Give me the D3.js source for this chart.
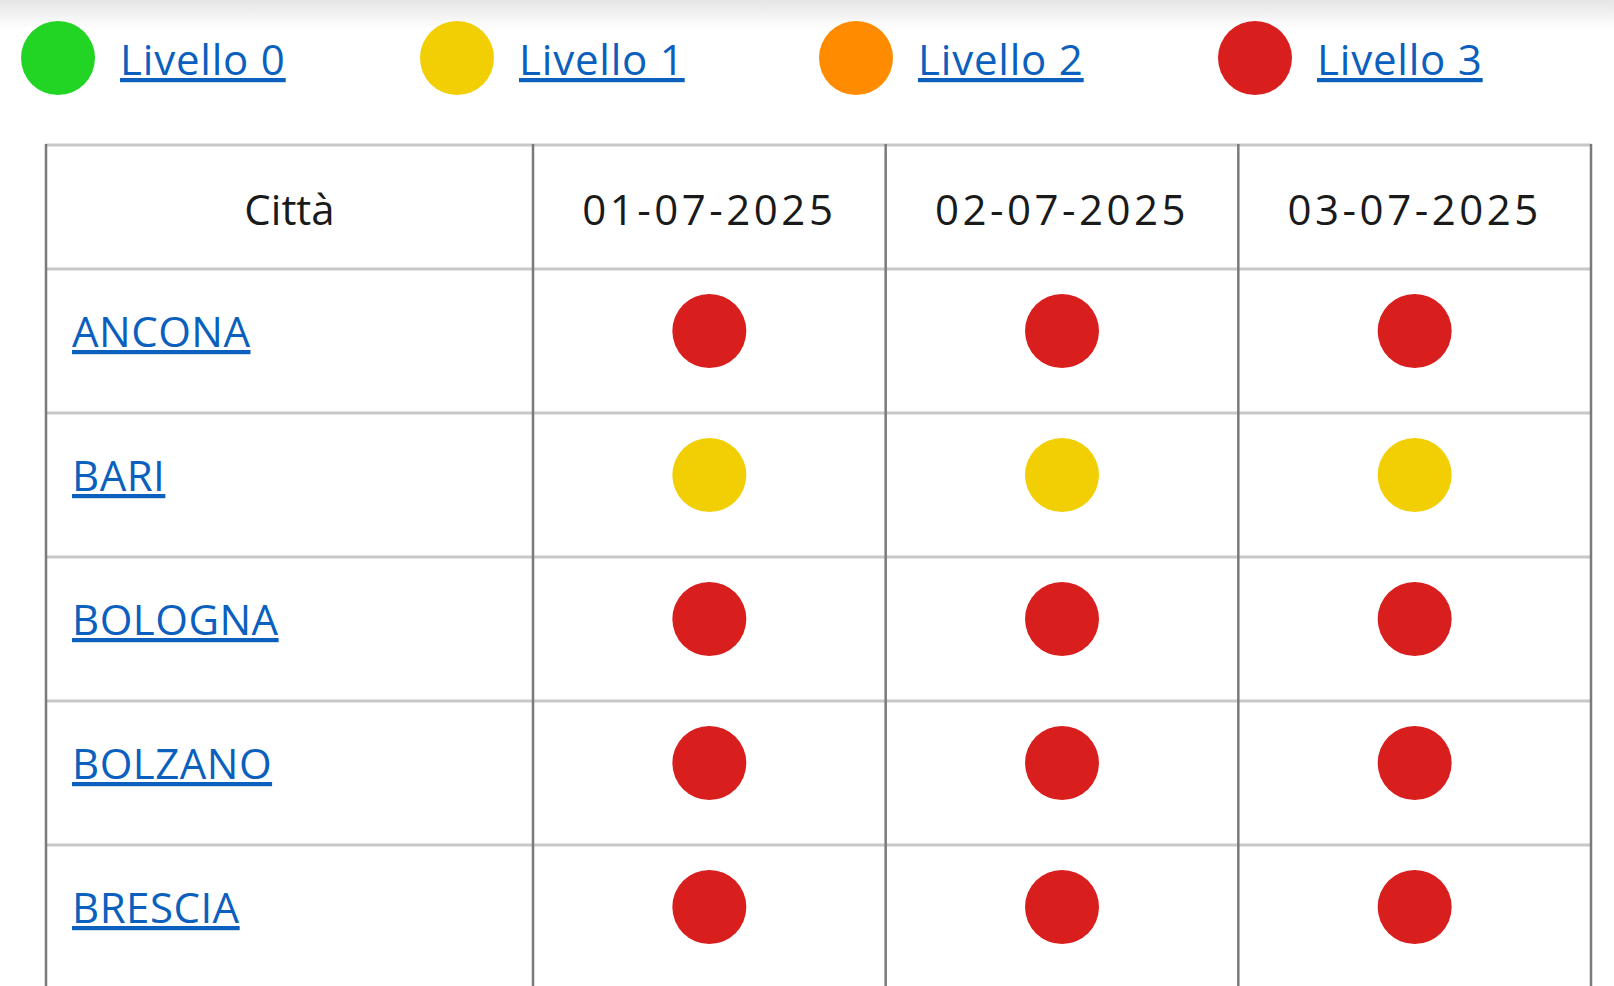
<!DOCTYPE html>
<html>
<head>
<meta charset="utf-8">
<script src="https://cdn.jsdelivr.net/npm/d3@7"></script>
<style>
body { margin: 0; background: #fff; }
text { font-family: "Open Sans", sans-serif; }
.link { text-decoration: underline; text-decoration-thickness: 1.5px; text-underline-offset: 6px; }
</style>
</head>
<body>
<svg id="chart"></svg>
<script>
var width = 1614;
var height = 986;

// legend levels
var levels = ["Livello 0", "Livello 1", "Livello 2", "Livello 3"];
var levelColors = ["#22d424", "#f2cf05", "#ff8c00", "#d91e1e"];

// table data
var dates = ["01-07-2025", "02-07-2025", "03-07-2025"];
var cities = ["ANCONA", "BARI", "BOLOGNA", "BOLZANO", "BRESCIA"];
var cityLevels = [
	[3, 3, 3],
	[1, 1, 1],
	[3, 3, 3],
	[3, 3, 3],
	[3, 3, 3]
];

var linkColor = "#0b5fbd";

var svg = d3.select("#chart").attr("width", width).attr("height", height);

// faint shade at the top
var grad = svg.append("defs").append("linearGradient")
	.attr("id", "topShade").attr("x1", 0).attr("x2", 0).attr("y1", 0).attr("y2", 1);
grad.append("stop").attr("offset", "0%").attr("stop-color", "#e6e6e6");
grad.append("stop").attr("offset", "100%").attr("stop-color", "#fff");
svg.append("rect").attr("width", width).attr("height", 30).attr("fill", "url(#topShade)");

// legend
var legendX = d3.scalePoint().domain(levels).range([58, 1255]);
var leg = svg.selectAll(".legend").data(levels).enter().append("g")
	.attr("transform", function(d) { return "translate(" + legendX(d) + ",58)"; });
leg.append("circle").attr("r", 37).attr("fill", function(d, i) { return levelColors[i]; });
leg.append("text")
	.attr("class", "link")
	.attr("x", 62).attr("y", 17)
	.attr("font-size", 42)
	.attr("letter-spacing", 0.8)
	.attr("fill", linkColor)
	.text(function(d) { return d; });

// table layout
var tableLeft = 46, tableRight = 1591, tableTop = 145, headerH = 124, rowH = 144;
var firstColRight = 533;
var colX = d3.scaleBand().domain(dates).range([firstColRight, tableRight]);
var rowY = d3.scaleBand().domain(cities).range([tableTop + headerH, tableTop + headerH + rowH * cities.length]);
var tableBottom = height + 10;

var grid = svg.append("g");
// horizontal lines
var hLines = [tableTop, tableTop + headerH].concat(cities.slice(1).map(function(c) { return rowY(c); }));
grid.selectAll(".h").data(hLines).enter().append("line")
	.attr("x1", tableLeft).attr("x2", tableRight)
	.attr("y1", function(d) { return d; }).attr("y2", function(d) { return d; })
	.style("stroke", "#c8c8c8").style("stroke-width", 3);
// vertical lines
var vLines = [tableLeft, firstColRight].concat(dates.map(function(d) { return colX(d) + colX.bandwidth(); }));
grid.selectAll(".v").data(vLines).enter().append("line")
	.attr("x1", function(d) { return d; }).attr("x2", function(d) { return d; })
	.attr("y1", tableTop - 1).attr("y2", tableBottom)
	.style("stroke", "#7a7a7a").style("stroke-width", 2.5);

// header
var headY = tableTop + headerH / 2 + 18;
svg.append("text")
	.attr("x", (tableLeft + firstColRight) / 2).attr("y", headY)
	.attr("text-anchor", "middle").attr("font-size", 42).attr("fill", "#1a1a1a")
	.text("Città");
svg.selectAll(".date").data(dates).enter().append("text")
	.attr("x", function(d) { return colX(d) + colX.bandwidth() / 2; })
	.attr("y", headY)
	.attr("text-anchor", "middle").attr("font-size", 42).attr("fill", "#1a1a1a")
	.attr("letter-spacing", 3.5)
	.text(function(d) { return d; });

// rows
var rows = svg.selectAll(".row").data(cities).enter().append("g")
	.attr("transform", function(d) { return "translate(0," + (rowY(d) + rowH / 2 - 10) + ")"; });
rows.append("text")
	.attr("class", "link")
	.attr("x", 72).attr("y", 16)
	.attr("font-size", 42).attr("fill", linkColor)
	.attr("letter-spacing", 0.5)
	.text(function(d) { return d; });
rows.selectAll("circle").data(function(d, i) { return cityLevels[i]; }).enter().append("circle")
	.attr("cx", function(d, j) { return colX(dates[j]) + colX.bandwidth() / 2; })
	.attr("cy", 0)
	.attr("r", 37)
	.attr("fill", function(d) { return levelColors[d]; });
</script>
</body>
</html>
